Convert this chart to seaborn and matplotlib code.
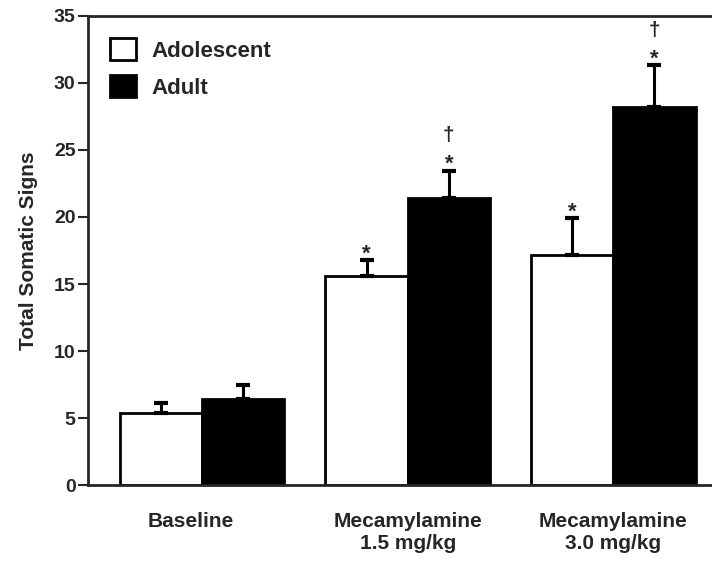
import numpy as np
import pandas as pd
import seaborn as sns
import matplotlib.pyplot as plt
import matplotlib.transforms as mtransforms

conditions = ['Baseline', 'Mecamylamine\n1.5 mg/kg', 'Mecamylamine\n3.0 mg/kg']
groups = ['Adolescent', 'Adult']
adolescent_mean = [5.4, 15.6, 17.2]
adolescent_sem = [0.75, 1.2, 2.7]
adult_mean = [6.45, 21.45, 28.2]
adult_sem = [1.0, 2.0, 3.1]
# significance marks above each bar
marks_adolescent = ['', '*', '*']
marks_adult = ['', '*', '*']
dagger_adult = ['', '\u2020', '\u2020']

df = pd.DataFrame({
    'condition': conditions * 2,
    'group': [groups[0]] * 3 + [groups[1]] * 3,
    'signs': adolescent_mean + adult_mean,
    'sem': adolescent_sem + adult_sem,
})

sns.set_style('ticks')
plt.rcParams['font.family'] = ['Liberation Sans', 'DejaVu Sans']
plt.rcParams['font.weight'] = 'bold'

fig = plt.figure(figsize=(7.12, 5.63), dpi=100)
ax = fig.add_axes([0.1236, 0.138, 0.8764, 0.834])

sns.barplot(data=df, x='condition', y='signs', hue='group', order=conditions,
            hue_order=groups, palette=['white', 'black'], edgecolor='black',
            linewidth=2, errorbar=None, width=0.8, saturation=1, ax=ax)

# one-sided error bars on top of each bar
for i, (means, sems) in enumerate([(adolescent_mean, adolescent_sem),
                                   (adult_mean, adult_sem)]):
    bars = ax.containers[i]
    xs = [b.get_x() + b.get_width() / 2 for b in bars]
    ax.errorbar(xs, means, yerr=[np.zeros(3), sems], fmt='none', ecolor='black',
                elinewidth=2.2, capsize=5, capthick=3, zorder=1)

for j in range(3):
    b0 = ax.containers[0][j]
    b1 = ax.containers[1][j]
    x0 = b0.get_x() + b0.get_width() / 2
    x1 = b1.get_x() + b1.get_width() / 2
    if marks_adolescent[j]:
        ax.text(x0, adolescent_mean[j] + adolescent_sem[j] + 0.45, marks_adolescent[j],
                ha='center', va='center', fontsize=16, fontweight='bold')
    if marks_adult[j]:
        ax.text(x1, adult_mean[j] + adult_sem[j] + 0.45, marks_adult[j],
                ha='center', va='center', fontsize=16, fontweight='bold')
    if dagger_adult[j]:
        ax.text(x1, adult_mean[j] + adult_sem[j] + 2.6, dagger_adult[j],
                ha='center', va='center', fontsize=15, fontweight='heavy')

ax.set_xlim(-0.555, 2.48)
ax.set_ylim(0, 35)
ax.set_yticks(range(0, 36, 5))
ax.set_xlabel('')
ax.set_ylabel('Total Somatic Signs', fontsize=15, fontweight='bold', labelpad=11)
ax.tick_params(axis='y', labelsize=14, width=1.5, length=7, direction='out', pad=2)
ax.tick_params(axis='x', labelsize=15, length=0, pad=19)
for lab in ax.get_xticklabels() + ax.get_yticklabels():
    lab.set_fontweight('bold')

# the Baseline label sits a little left of its group in the original
first = ax.get_xticklabels()[0]
first.set_transform(first.get_transform() +
                    mtransforms.ScaledTranslation(-0.11, 0, fig.dpi_scale_trans))

for s in ['left', 'bottom', 'top']:
    ax.spines[s].set_linewidth(2)
ax.spines['right'].set_visible(False)

leg = ax.legend(loc='upper left', frameon=False, fontsize=16, handlelength=1.17,
                handleheight=1.17, handletextpad=0.7, labelspacing=0.6,
                borderaxespad=0.6)
for t in leg.get_texts():
    t.set_fontweight('bold')

fig.savefig('out.png', dpi=100)
